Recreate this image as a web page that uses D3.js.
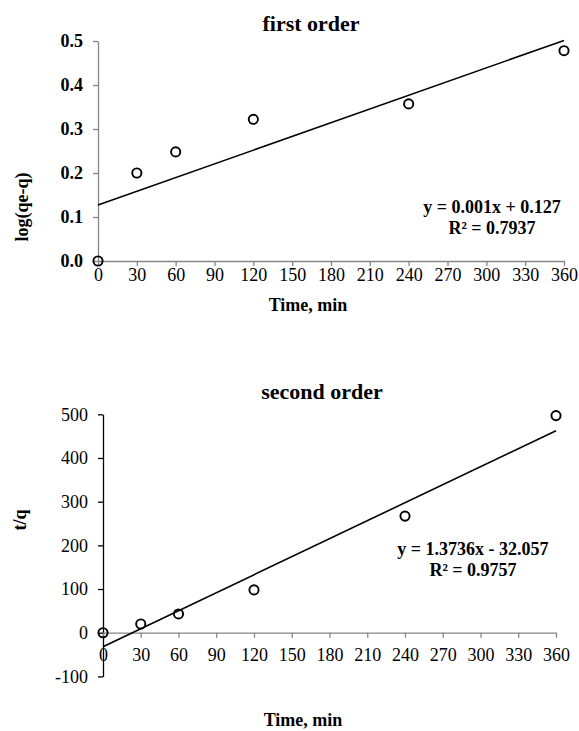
<!DOCTYPE html>
<html>
<head>
<meta charset="utf-8">
<script src="https://cdn.jsdelivr.net/npm/d3@7"></script>
<style>
body { margin: 0; background: #fff; }
svg text { font-family: "Liberation Serif", "Times New Roman", serif; fill: #000; }
</style>
</head>
<body>
<svg id="board" width="579" height="731"></svg>
<script>
// sampling times, min
const time = [0, 30, 60, 120, 240, 360]
// first order: log(qe-q)
const logQ = [0, 0.2, 0.248, 0.322, 0.357, 0.478]
// second order: t/q
const tq = [0, 20, 43, 98, 267, 497]

const xTicks = [0, 30, 60, 90, 120, 150, 180, 210, 240, 270, 300, 330, 360]
const firstYTicks = [0, 0.1, 0.2, 0.3, 0.4, 0.5]
const secondYTicks = [-100, 0, 100, 200, 300, 400, 500]

// trendline coefficients [slope, intercept]
const firstFit = [0.00104, 0.127]
const secondFit = [1.3736, -32.057]

const firstEq = ['y = 0.001x + 0.127', 'R\u00b2 = 0.7937']
const secondEq = ['y = 1.3736x - 32.057', 'R\u00b2 = 0.9757']

const gray = '#868686'
const serif = '"Liberation Serif", "Times New Roman", serif'

function drawPanel(root, p) {
    let g = root.append('g')

    let x = d3.scaleLinear().domain([0, 360]).range(p.xRange)
    let y = d3.scaleLinear().domain(p.yDomain).range(p.yRange)

    // y axis
    let yAxisG = g.append('g')
        .attr('transform', 'translate(' + [p.xRange[0], 0] + ')')
        .call(d3.axisLeft(y)
            .tickValues(p.yTicks)
            .tickSize(5)
            .tickSizeOuter(0)
            .tickPadding(10)
            .tickFormat(p.yFormat))
        .attr('font-family', null)
    yAxisG.select('.domain').attr('stroke', p.yColor).attr('stroke-width', 1.3)
    yAxisG.selectAll('.tick line').attr('stroke', p.yColor).attr('stroke-width', 1.3)
    yAxisG.selectAll('.tick text')
        .style('font-size', '18px')
        .style('font-weight', p.yBold ? 'bold' : 'normal')
        .attr('dy', '0.33em')

    // x axis sits on y = 0
    let xAxisG = g.append('g')
        .attr('transform', 'translate(' + [0, y(0)] + ')')
        .call(d3.axisBottom(x)
            .tickValues(xTicks)
            .tickSize(5)
            .tickSizeOuter(0))
        .attr('font-family', null)
    xAxisG.select('.domain').attr('stroke', gray).attr('stroke-width', 1.3)
    xAxisG.selectAll('.tick line').attr('stroke', gray).attr('stroke-width', 1.3)
    xAxisG.selectAll('.tick text')
        .style('font-size', '18px')
        .attr('y', p.xLabelOffset)
        .attr('dy', null)

    // trendline
    let fx = d => p.fit[0] * d + p.fit[1]
    g.append('line')
        .attr('x1', x(0))
        .attr('y1', y(fx(0)))
        .attr('x2', x(360))
        .attr('y2', y(fx(360)))
        .attr('stroke', 'black')
        .attr('stroke-width', 1.6)

    // points
    g.append('g')
        .selectAll(null)
        .data(time.map((t, i) => [t, p.values[i]]))
        .enter()
        .append('circle')
        .attr('cx', d => x(d[0]))
        .attr('cy', d => y(d[1]))
        .attr('r', 4.6)
        .attr('fill', 'none')
        .attr('stroke', 'black')
        .attr('stroke-width', 1.9)

    // title
    g.append('text')
        .text(p.title)
        .attr('x', p.titlePos[0])
        .attr('y', p.titlePos[1])
        .style('font-size', '22px')
        .style('font-weight', 'bold')
        .style('text-anchor', 'middle')

    // axis titles
    g.append('text')
        .text('Time, min')
        .attr('x', p.xTitlePos[0])
        .attr('y', p.xTitlePos[1])
        .style('font-size', '18px')
        .style('font-weight', 'bold')
        .style('text-anchor', 'middle')

    g.append('text')
        .text(p.yTitle)
        .attr('transform', 'translate(' + p.yTitlePos + ') rotate(-90)')
        .style('font-size', '18px')
        .style('font-weight', 'bold')
        .style('text-anchor', 'middle')

    // equation label
    g.append('g')
        .selectAll(null)
        .data(p.eq)
        .enter()
        .append('text')
        .text(d => d)
        .attr('x', p.eqPos[0])
        .attr('y', (d, i) => p.eqPos[1] + i * 21)
        .style('font-size', '18px')
        .style('font-weight', 'bold')
        .style('text-anchor', 'middle')

    g.selectAll('text').style('font-family', serif)
}

let svg = d3.select('#board')

drawPanel(svg, {
    xRange: [98, 564],
    yDomain: [0, 0.5],
    yRange: [261, 41],
    yTicks: firstYTicks,
    yFormat: d3.format('.1f'),
    yBold: true,
    yColor: gray,
    xLabelOffset: 20,
    values: logQ,
    fit: firstFit,
    title: 'first order',
    titlePos: [311, 31],
    xTitlePos: [308, 311],
    yTitle: 'log(qe-q)',
    yTitlePos: [28, 207],
    eq: firstEq,
    eqPos: [492, 213]
})

drawPanel(svg, {
    xRange: [103, 556],
    yDomain: [-100, 500],
    yRange: [676.4, 414.3],
    yTicks: secondYTicks,
    yFormat: d => String(d),
    yBold: false,
    yColor: 'black',
    xLabelOffset: 28,
    values: tq,
    fit: secondFit,
    title: 'second order',
    titlePos: [322, 399],
    xTitlePos: [303, 726],
    yTitle: 't/q',
    yTitlePos: [26, 520],
    eq: secondEq,
    eqPos: [473, 555]
})
</script>
</body>
</html>
